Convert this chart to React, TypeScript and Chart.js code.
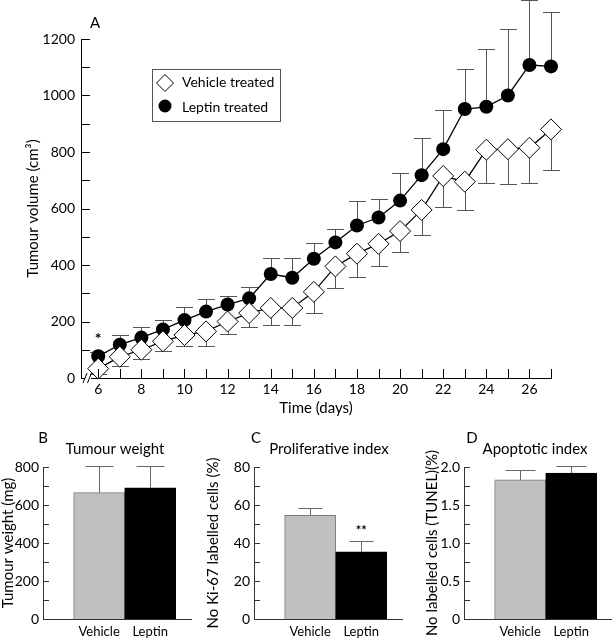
import React, { useEffect, useRef } from 'react';
import { Chart, registerables } from 'chart.js';

Chart.register(...registerables);
Chart.defaults.font.family = 'Lato, "DejaVu Sans", sans-serif';
Chart.defaults.color = '#000';

// ---------- Panel A data ----------
const DAYS = [6, 7, 8, 9, 10, 11, 12, 13, 14, 15, 16, 17, 18, 19, 20, 21, 22, 23, 24, 25, 26, 27];
const TIME_LABELS = [6, 8, 10, 12, 14, 16, 18, 20, 22, 24, 26];
const VOLUME_LABELS = [0, 200, 400, 600, 800, 1000, 1200];
const VOLUME_MINOR = [0, 100, 200, 300, 400, 500, 600, 700, 800, 900, 1000, 1100, 1200];
const VEHICLE_VOLUME = [33, 75, 100, 130, 152, 165, 200, 230, 248, 248, 305, 395, 440, 475, 520, 595, 715, 695, 808, 810, 815, 880];
const VEHICLE_ERR = [20, 32, 31, 35, 39, 52, 46, 50, 61, 61, 75, 78, 82, 77, 73, 90, 110, 99, 119, 125, 126, 144];
const LEPTIN_VOLUME = [77, 118, 143, 172, 205, 235, 260, 282, 368, 355, 422, 480, 540, 568, 628, 718, 810, 952, 960, 1000, 1108, 1103];
const LEPTIN_ERR = [16, 34, 38, 35, 45, 44, 31, 41, 56, 69, 55, 47, 85, 67, 99, 130, 140, 141, 203, 234, 231, 191];

// ---------- Panels B-D data ----------
const GROUPS = ['Vehicle', 'Leptin'];
const WEIGHT = [665, 690];
const WEIGHT_ERR = [140, 115];
const WEIGHT_LABELS = [0, 200, 400, 600, 800];
const WEIGHT_MINOR = [0, 100, 200, 300, 400, 500, 600, 700, 800];
const KI67 = [54.5, 35.3];
const KI67_ERR = [4, 6];
const KI67_LABELS = [0, 20, 40, 60, 80];
const KI67_MINOR = [0, 10, 20, 30, 40, 50, 60, 70, 80];
const TUNEL = [1.83, 1.92];
const TUNEL_ERR = [0.13, 0.09];
const TUNEL_LABELS = [0, 0.5, 1.0, 1.5, 2.0];
const TUNEL_MINOR = [0, 0.25, 0.5, 0.75, 1.0, 1.25, 1.5, 1.75, 2.0];

const FONT = 'Lato, "DejaVu Sans", sans-serif';

function innerTicks(xVals: number[], yVals: number[], len: number, color: string) {
  return {
    id: 'innerTicks',
    afterDraw(chart: any) {
      const { ctx, chartArea, scales } = chart;
      ctx.save();
      ctx.strokeStyle = color;
      ctx.lineWidth = 1;
      for (const v of xVals) {
        const px = Math.round(scales.x.getPixelForValue(v)) + 0.5;
        ctx.beginPath();
        ctx.moveTo(px, chartArea.bottom);
        ctx.lineTo(px, chartArea.bottom - len);
        ctx.stroke();
      }
      for (const v of yVals) {
        const py = Math.round(scales.y.getPixelForValue(v)) + 0.5;
        ctx.beginPath();
        ctx.moveTo(chartArea.left, py);
        ctx.lineTo(chartArea.left + len, py);
        ctx.stroke();
      }
      ctx.restore();
    },
  };
}

function errorBars(specs: { ds: number; errs: number[]; dir: number; cap: number; color: string; after?: boolean }[]) {
  const draw = (chart: any, after: boolean) => {
    const { ctx, scales } = chart;
    ctx.save();
    for (const s of specs) {
      if (!!s.after !== after) continue;
      const meta = chart.getDatasetMeta(s.ds);
      const data = chart.data.datasets[s.ds].data;
      ctx.strokeStyle = s.color;
      ctx.lineWidth = 1;
      meta.data.forEach((el: any, j: number) => {
        const d = data[j];
        const v = typeof d === 'number' ? d : d.y;
        const x = Math.round(el.x) + 0.5;
        const y0 = el.y;
        const y1 = Math.round(scales.y.getPixelForValue(v + s.dir * s.errs[j])) + 0.5;
        ctx.beginPath();
        ctx.moveTo(x, y0);
        ctx.lineTo(x, y1);
        ctx.moveTo(x - s.cap / 2, y1);
        ctx.lineTo(x + s.cap / 2, y1);
        ctx.stroke();
      });
    }
    ctx.restore();
  };
  return {
    id: 'errorBars',
    beforeDatasetsDraw(chart: any) { draw(chart, false); },
    afterDatasetsDraw(chart: any) { draw(chart, true); },
  };
}

function texts(items: { text: string; x: number; y: number; size: number; align?: CanvasTextAlign }[]) {
  return {
    id: 'texts',
    afterDraw(chart: any) {
      const { ctx } = chart;
      ctx.save();
      ctx.fillStyle = '#000';
      ctx.textBaseline = 'middle';
      for (const t of items) {
        ctx.font = `${t.size}px ${FONT}`;
        ctx.textAlign = t.align || 'left';
        ctx.fillText(t.text, t.x, t.y);
      }
      ctx.restore();
    },
  };
}

const annotationPlugin = (ds: number, idx: number, value: number, text: string, size: number) => ({
  id: 'annot',
  afterDraw(chart: any) {
    const { ctx, scales } = chart;
    const el = chart.getDatasetMeta(ds).data[idx];
    ctx.save();
    ctx.fillStyle = '#000';
    ctx.font = `bold ${size}px ${FONT}`;
    ctx.textAlign = 'center';
    ctx.textBaseline = 'middle';
    ctx.fillText(text, el.x, scales.y.getPixelForValue(value));
    ctx.restore();
  },
});

const legendPlugin = {
  id: 'boxLegend',
  afterDraw(chart: any) {
    const { ctx } = chart;
    ctx.save();
    ctx.strokeStyle = '#555';
    ctx.lineWidth = 1;
    ctx.strokeRect(152.5, 69.5, 128, 52);
    ctx.fillStyle = '#fff';
    ctx.strokeStyle = '#000';
    ctx.beginPath();
    const cx = 165, cy = 83, r = 8.5;
    ctx.moveTo(cx, cy - r);
    ctx.lineTo(cx + r, cy);
    ctx.lineTo(cx, cy + r);
    ctx.lineTo(cx - r, cy);
    ctx.closePath();
    ctx.fill();
    ctx.stroke();
    ctx.fillStyle = '#000';
    ctx.beginPath();
    ctx.arc(165, 106, 6.5, 0, Math.PI * 2);
    ctx.fill();
    ctx.font = `14px ${FONT}`;
    ctx.textBaseline = 'middle';
    ctx.textAlign = 'left';
    ctx.fillText('Vehicle treated', 182, 82);
    ctx.fillText('Leptin treated', 182, 107);
    ctx.restore();
  },
};

const breakPlugin = {
  id: 'axisBreak',
  afterDraw(chart: any) {
    const { ctx, chartArea } = chart;
    const y = chartArea.bottom;
    ctx.save();
    ctx.fillStyle = '#fff';
    ctx.fillRect(85, y - 2, 6, 4);
    ctx.strokeStyle = '#000';
    ctx.lineWidth = 1;
    ctx.beginPath();
    ctx.moveTo(83, y + 5);
    ctx.lineTo(87, y - 5);
    ctx.moveTo(87.5, y + 5);
    ctx.lineTo(91.5, y - 5);
    ctx.stroke();
    ctx.restore();
  },
};

function topConfig(): any {
  return {
    type: 'line',
    data: {
      datasets: [
        {
          label: 'Vehicle treated',
          data: DAYS.map((d, i) => ({ x: d, y: VEHICLE_VOLUME[i] })),
          borderColor: '#000',
          borderWidth: 1.3,
          pointStyle: 'rectRot',
          pointRadius: 10.5,
          pointBackgroundColor: '#fff',
          pointBorderColor: '#000',
          pointBorderWidth: 1,
          tension: 0,
          clip: false,
        },
        {
          label: 'Leptin treated',
          data: DAYS.map((d, i) => ({ x: d, y: LEPTIN_VOLUME[i] })),
          borderColor: '#000',
          borderWidth: 1.3,
          pointStyle: 'circle',
          pointRadius: 7,
          pointBackgroundColor: '#000',
          pointBorderColor: '#000',
          pointBorderWidth: 0,
          tension: 0,
          clip: false,
        },
      ],
    },
    options: {
      responsive: false,
      animation: false,
      devicePixelRatio: 1,
      layout: { padding: { top: 39, right: 61, left: 0, bottom: 0 } },
      plugins: { legend: { display: false }, tooltip: { enabled: false } },
      scales: {
        x: {
          type: 'linear',
          min: 5.2,
          max: 27,
          afterBuildTicks: (s: any) => { s.ticks = TIME_LABELS.map((v) => ({ value: v })); },
          afterFit: (s: any) => { s.height = 42; },
          grid: { display: false, drawTicks: false },
          border: { display: true, color: '#000', width: 1 },
          ticks: { autoSkip: false, maxRotation: 0, padding: 3, color: '#000', font: { size: 14 }, callback: (v: any) => String(v) },
          title: { display: true, text: 'Time (days)', color: '#000', font: { size: 15 }, padding: { top: 0, bottom: 3 } },
        },
        y: {
          type: 'linear',
          min: 0,
          max: 1200,
          afterBuildTicks: (s: any) => { s.ticks = VOLUME_LABELS.map((v) => ({ value: v })); },
          afterFit: (s: any) => { s.width = 81; },
          grid: { display: false, drawTicks: false },
          border: { display: true, color: '#000', width: 1 },
          ticks: { padding: 6, color: '#000', font: { size: 14 }, callback: (v: any) => String(v) },
          title: { display: true, text: 'Tumour volume (cm³)', color: '#000', font: { size: 15 }, padding: { top: 24, bottom: 0 } },
        },
      },
    },
    plugins: [
      errorBars([
        { ds: 0, errs: VEHICLE_ERR, dir: -1, cap: 17, color: '#555' },
        { ds: 1, errs: LEPTIN_ERR, dir: 1, cap: 17, color: '#555' },
      ]),
      innerTicks(DAYS, VOLUME_MINOR, 9, '#000'),
      breakPlugin,
      legendPlugin,
      annotationPlugin(1, 0, 140, '*', 16),
      texts([{ text: 'A', x: 95, y: 23, size: 15, align: 'center' }]),
    ],
  };
}

function barConfig(opts: {
  values: number[];
  errs: number[];
  max: number;
  labels: number[];
  minor: number[];
  fmt: (v: number) => string;
  yTitle: string;
  yWidth: number;
  titlePad: number;
  rightPad: number;
  cap: number;
  letter: string;
  letterX: number;
  title: string;
  titleX: number;
  extra?: any;
}): any {
  const plugins: any[] = [
    errorBars([{ ds: 0, errs: opts.errs, dir: 1, cap: opts.cap, color: '#666', after: true }]),
    innerTicks([], opts.minor, 6, '#333'),
    texts([
      { text: opts.letter, x: opts.letterX, y: 8, size: 15, align: 'center' },
      { text: opts.title, x: opts.titleX, y: 19, size: 15, align: 'center' },
    ]),
  ];
  if (opts.extra) plugins.push(opts.extra);
  return {
    type: 'bar',
    data: {
      datasets: [
        {
          data: opts.values.map((v, i) => ({ x: i + 1, y: v })),
          backgroundColor: ['#c0c0c0', '#000'],
          borderColor: ['#7a7a7a', '#000'],
          borderWidth: 1,
          barThickness: 51,
          borderSkipped: 'bottom',
        },
      ],
    },
    options: {
      responsive: false,
      animation: false,
      devicePixelRatio: 1,
      layout: { padding: { top: 37, right: opts.rightPad, left: 0, bottom: 0 } },
      plugins: { legend: { display: false }, tooltip: { enabled: false } },
      scales: {
        x: {
          type: 'linear',
          min: -0.1,
          max: 2.8,
          offset: false,
          afterBuildTicks: (s: any) => { s.ticks = GROUPS.map((_, i) => ({ value: i + 1 })); },
          afterFit: (s: any) => { s.height = 20; },
          grid: { display: false, drawTicks: false },
          border: { display: true, color: '#333', width: 1 },
          ticks: { autoSkip: false, maxRotation: 0, padding: 5, color: '#000', font: { size: 13 }, callback: (v: any) => GROUPS[v - 1] },
        },
        y: {
          type: 'linear',
          min: 0,
          max: opts.max,
          afterBuildTicks: (s: any) => { s.ticks = opts.labels.map((v) => ({ value: v })); },
          afterFit: (s: any) => { s.width = opts.yWidth; },
          grid: { display: false, drawTicks: false },
          border: { display: true, color: '#333', width: 1 },
          ticks: { padding: 4, color: '#000', font: { size: 14 }, callback: (v: any) => opts.fmt(v) },
          title: { display: true, text: opts.yTitle, color: '#000', font: { size: 15, lineHeight: 1 }, padding: { top: opts.titlePad, bottom: 0 } },
        },
      },
    },
    plugins,
  };
}

function ChartCanvas({ left, top, width, height, build }: { left: number; top: number; width: number; height: number; build: () => any }) {
  const ref = useRef<HTMLCanvasElement>(null);
  useEffect(() => {
    const chart = new Chart(ref.current as HTMLCanvasElement, build());
    return () => chart.destroy();
  }, []);
  return (
    <canvas
      ref={ref}
      width={width}
      height={height}
      style={{ position: 'absolute', left, top, width, height }}
    />
  );
}

export default function App() {
  return (
    <div style={{ position: 'absolute', left: 0, top: 0, width: 612, height: 639, background: '#fff', overflow: 'hidden' }}>
      <ChartCanvas left={0} top={0} width={612} height={420} build={topConfig} />
      <ChartCanvas
        left={0}
        top={430}
        width={205}
        height={209}
        build={() =>
          barConfig({
            values: WEIGHT,
            errs: WEIGHT_ERR,
            max: 800,
            labels: WEIGHT_LABELS,
            minor: WEIGHT_MINOR,
            fmt: (v) => String(v),
            yTitle: 'Tumour weight (mg)',
            yWidth: 43,
            titlePad: 0.5,
            rightPad: 14,
            cap: 28,
            letter: 'B',
            letterX: 43,
            title: 'Tumour weight',
            titleX: 115,
          })
        }
      />
      <ChartCanvas
        left={206}
        top={430}
        width={214}
        height={209}
        build={() =>
          barConfig({
            values: KI67,
            errs: KI67_ERR,
            max: 80,
            labels: KI67_LABELS,
            minor: KI67_MINOR,
            fmt: (v) => String(v),
            yTitle: 'No Ki-67 labelled cells (%)',
            yWidth: 48,
            titlePad: 0,
            rightPad: 18,
            cap: 24,
            letter: 'C',
            letterX: 50,
            title: 'Proliferative index',
            titleX: 123,
            extra: annotationPlugin(0, 1, 46.5, '**', 13),
          })
        }
      />
      <ChartCanvas
        left={420}
        top={430}
        width={192}
        height={209}
        build={() =>
          barConfig({
            values: TUNEL,
            errs: TUNEL_ERR,
            max: 2.0,
            labels: TUNEL_LABELS,
            minor: TUNEL_MINOR,
            fmt: (v) => (v === 0 ? '0' : v.toFixed(1)),
            yTitle: 'No labelled cells (TUNEL)(%)',
            yWidth: 44,
            titlePad: 4.5,
            rightPad: 0,
            cap: 30,
            letter: 'D',
            letterX: 52,
            title: 'Apoptotic index',
            titleX: 115,
          })
        }
      />
    </div>
  );
}
